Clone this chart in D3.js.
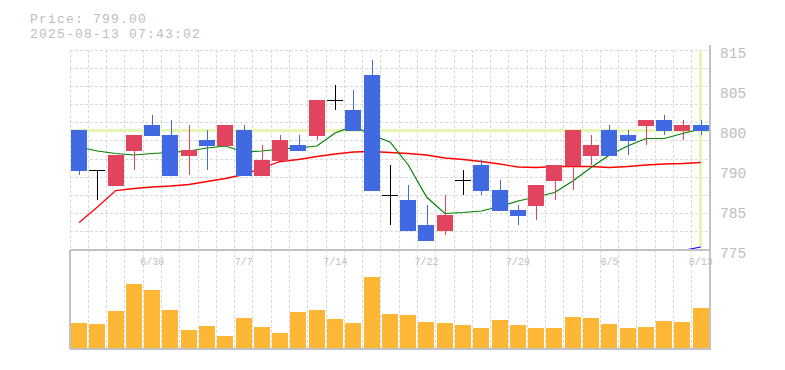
<!DOCTYPE html>
<html>
<head>
<meta charset="utf-8">
<script src="https://cdn.jsdelivr.net/npm/d3@7/dist/d3.min.js"></script>
<style>
  html, body { margin: 0; padding: 0; background: #ffffff; }
  svg { display: block; }
  text { font-family: "Liberation Mono", "DejaVu Sans Mono", monospace; fill: #bebebe; }
</style>
</head>
<body>
<svg id="chart" width="785" height="370"></svg>
<script>
// ---- data ----
const dates = ["6/24","6/25","6/26","6/27","6/30","7/1","7/2","7/3","7/4","7/7",
  "7/8","7/9","7/10","7/11","7/14","7/15","7/16","7/17","7/18","7/22",
  "7/23","7/24","7/25","7/28","7/29","7/30","7/31","8/1","8/4","8/5",
  "8/6","8/7","8/8","8/12","8/13"];
const open  = [799,791,788,795,800,798,794,797,796,799,790,793,796,798,805,803,810,786,785,780,779,789,792,787,783,784,789,792,794,799,798,800,801,799,800];
const high  = [799,791,794,798,802,801,800,799,800,800,796,798,798,805,808,807,813,792,788,784,786,791,793,789,784,788,792,799,798,800,799,801,802,801,801];
const low   = [790,785,788,791,798,790,790,791,796,790,790,793,795,797,803,799,787,780,779,777,778,786,786,783,780,781,785,787,792,794,794,796,798,797,798];
const close = [791,791,794,798,798,790,795,796,800,790,793,797,795,805,805,799,787,786,779,777,782,789,787,783,782,788,792,799,796,794,797,801,799,800,799];
const maShort = [795.6,794.8,794.3,794.0,794.3,794.5,794.8,795.4,795.8,794.6,794.8,795.2,795.4,795.8,798.4,799.8,798.0,796.6,792.0,785.6,782.3,782.5,782.8,783.7,784.8,785.6,786.5,788.8,791.5,794.0,795.8,797.3,797.3,798.3,799.2];
const maLong  = [780.5,783.6,786.9,787.3,787.6,787.8,788.1,788.7,789.3,790.1,791.4,792.7,793.1,793.7,794.2,794.6,794.7,794.5,794.3,794.0,793.4,793.1,792.7,792.2,791.6,791.5,791.7,791.7,791.7,791.5,791.7,792.0,792.2,792.3,792.5];
const maLonger = [null,null,null,null,null,null,null,null,null,null,null,null,null,null,null,null,null,null,null,null,null,null,null,null,null,null,null,null,null,null,null,null,null,774.9,775.6];
const volume = [25300,24300,37000,64300,58300,38300,18300,22300,12300,30300,21300,15300,36300,38300,29300,25300,71300,34300,33300,26300,25300,23300,20300,28300,23300,20300,20300,31300,30300,24300,20300,21300,27300,26300,40300];
const yTickValues = [815, 807, 799, 791, 783, 775];
const yTickLabels = ["815", "805", "800", "790", "785", "775"];
const xLabelIndex = [4, 9, 14, 19, 24, 29, 34];
const lastPrice = 799.00;
const titleLines = ["Price: 799.00", "2025-08-13 07:43:02"];

// ---- layout ----
const L = 70, R = 710, PT = 50, PB = 250, VT = 250, VB = 349, VBar = 348;
const n = dates.length;
const svg = d3.select("#chart");

const x = d3.scaleBand().domain(d3.range(n)).range([L, R]).padding(0);
const bw = x.bandwidth();
const y = d3.scaleLinear().domain([775, 815]).range([PB, PT]);
const yV = d3.scaleLinear().domain([0, d3.max(volume)]).range([VBar, 276.7]);

const gridColor = "#d9d9d9", borderColor = "#c2c2c2";

// grid - price panel
const g = svg.append("g").attr("shape-rendering", "crispEdges");
const hLines = d3.range(11).map(k => PT + k * (PB - PT) / 11);
g.selectAll(".hg").data(hLines).join("line")
  .attr("x1", L).attr("x2", R).attr("y1", d => d).attr("y2", d => d)
  .attr("stroke", gridColor).attr("stroke-dasharray", "3,2");
g.selectAll(".vg").data(d3.range(n)).join("line")
  .attr("x1", i => x(i)).attr("x2", i => x(i)).attr("y1", PT).attr("y2", PB)
  .attr("stroke", gridColor).attr("stroke-dasharray", "3,2");
// grid - volume panel
g.selectAll(".vg2").data(d3.range(1, n)).join("line")
  .attr("x1", i => x(i)).attr("x2", i => x(i)).attr("y1", VT).attr("y2", VB)
  .attr("stroke", gridColor).attr("stroke-dasharray", "3,2");

// last price markers
g.append("line").attr("x1", L).attr("x2", R).attr("y1", y(lastPrice)).attr("y2", y(lastPrice))
  .attr("stroke", "#e6f5b4").attr("stroke-width", 3);
const lastX = x(n - 1) + bw / 2;
g.append("line").attr("x1", lastX).attr("x2", lastX).attr("y1", PT).attr("y2", PB - 3)
  .attr("stroke", "#e6f5b4").attr("stroke-width", 3);

// moving averages
const lineGen = d3.line().defined(d => d != null).x((d, i) => x(i) + bw / 2).y(d => y(d));
svg.append("clipPath").attr("id", "pclip").append("rect")
  .attr("x", L).attr("y", PT).attr("width", R - L).attr("height", PB - PT);
const lines = svg.append("g").attr("clip-path", "url(#pclip)");
lines.append("path").attr("d", lineGen(maLong)).attr("fill", "none").attr("stroke", "#ff0000").attr("stroke-width", 1.3);
lines.append("path").attr("d", lineGen(maShort)).attr("fill", "none").attr("stroke", "#008000").attr("stroke-width", 1.2);
lines.append("path").attr("d", lineGen(maLonger)).attr("fill", "none").attr("stroke", "#0000ff").attr("stroke-width", 1.2);

// candles
const up = "#e2445f", down = "#4169e1", flat = "#000000";
const col = i => close[i] > open[i] ? up : (close[i] < open[i] ? down : flat);
const cg = svg.append("g").attr("shape-rendering", "crispEdges");
const cx = i => Math.round(x(i) + bw / 2) + 0.5;
cg.selectAll(".wick").data(d3.range(n)).join("line")
  .attr("x1", cx).attr("x2", cx)
  .attr("y1", i => y(high[i])).attr("y2", i => y(low[i]))
  .attr("stroke", col).attr("stroke-width", 1);
const bodies = d3.range(n).filter(i => open[i] !== close[i]);
cg.selectAll(".body").data(bodies).join("rect")
  .attr("x", i => x(i) + 1).attr("width", bw - 2.3)
  .attr("y", i => y(Math.max(open[i], close[i])))
  .attr("height", i => Math.abs(y(open[i]) - y(close[i])) + 1)
  .attr("fill", col);
const dojis = d3.range(n).filter(i => open[i] === close[i]);
cg.selectAll(".doji").data(dojis).join("line")
  .attr("x1", i => x(i) + 1).attr("x2", i => x(i) + bw - 1.3)
  .attr("y1", i => y(open[i]) + 0.5).attr("y2", i => y(open[i]) + 0.5)
  .attr("stroke", flat).attr("stroke-width", 1);

// volume bars
svg.append("g").attr("shape-rendering", "crispEdges")
  .selectAll("rect").data(volume).join("rect")
  .attr("x", (d, i) => x(i) + 1).attr("width", bw - 2.3)
  .attr("y", d => yV(d)).attr("height", d => VBar - yV(d))
  .attr("fill", "#fdb735");

// borders
const b = svg.append("g").attr("shape-rendering", "crispEdges").attr("fill", "none").attr("stroke", borderColor).attr("stroke-width", 1.5);
b.append("line").attr("x1", L).attr("x2", R + 1).attr("y1", PB).attr("y2", PB);
b.append("line").attr("x1", R).attr("x2", R).attr("y1", PT - 5).attr("y2", VB);
b.append("line").attr("x1", L).attr("x2", R + 1).attr("y1", VB).attr("y2", VB);
b.append("line").attr("x1", L).attr("x2", L).attr("y1", VT).attr("y2", VB);

// axes
const yAxis = d3.axisRight(y).tickValues(yTickValues).tickFormat((d, i) => yTickLabels[i]).tickSize(0).tickPadding(10);
const ya = svg.append("g").attr("transform", `translate(${R},0)`).call(yAxis);
ya.select(".domain").remove();
ya.selectAll("text").attr("dy", 7.5).attr("fill", "#bebebe")
  .style("font-family", "'Liberation Mono', monospace").style("font-size", "14.5px");

const xAxis = d3.axisBottom(x).tickValues(xLabelIndex).tickFormat(i => dates[i]).tickSize(0).tickPadding(8);
const xa = svg.append("g").attr("transform", `translate(0,${PB})`).call(xAxis);
xa.select(".domain").remove();
xa.selectAll("text").attr("fill", "#bebebe")
  .style("font-family", "'Liberation Mono', monospace").style("font-size", "10px");

// title
svg.selectAll(".title").data(titleLines).join("text")
  .attr("x", 30).attr("y", (d, i) => 22.5 + i * 15)
  .style("font-size", "13px").style("letter-spacing", "1.2px").attr("fill", "#bebebe")
  .text(d => d);
</script>
</body>
</html>
